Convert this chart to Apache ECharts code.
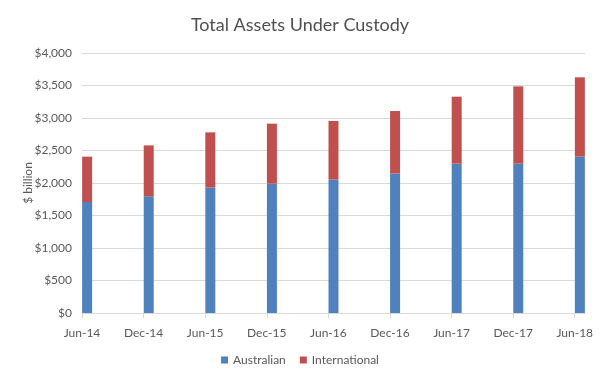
<!DOCTYPE html>
<html>
<head>
<meta charset="utf-8">
<script src="https://cdn.jsdelivr.net/npm/echarts@6/dist/echarts.min.js"></script>
<style>html,body{margin:0;padding:0;background:#fff}#c{width:600px;height:379px}</style>
</head>
<body>
<div id="c"></div>
<script>
var categories = ['Jun-14','Dec-14','Jun-15','Dec-15','Jun-16','Dec-16','Jun-17','Dec-17','Jun-18'];
var monthsFromStart = [0, 6, 12, 18, 24, 30, 36, 42, 48];
var australian = [1708, 1795, 1928, 1990, 2051, 2144, 2297, 2297, 2405];
var international = [697, 784, 851, 923, 903, 964, 1031, 1190, 1221];

var FONT = 'Lato';
var labelMap = {};
monthsFromStart.forEach(function(m, i){ labelMap[m] = categories[i]; });
// value first, then month position (bar spans its reporting month, centred mid-month)
function pts(vals){ return vals.map(function(v, i){ return [v, monthsFromStart[i] + 0.5]; }); }

var chart = echarts.init(document.getElementById('c'));
chart.setOption({
  animation: false,
  textStyle: { fontFamily: FONT },
  title: {
    text: 'Total Assets Under Custody', left: 'center', top: 11,
    textStyle: { fontFamily: FONT, fontSize: 18, fontWeight: 'normal', color: '#505050' }
  },
  legend: {
    bottom: 8, left: 'center', itemWidth: 7, itemHeight: 7, itemGap: 14,
    icon: 'rect',
    textStyle: { fontFamily: FONT, fontSize: 12, color: '#595959' },
    data: ['Australian', 'International']
  },
  grid: { left: 82, right: 15, top: 53, bottom: 66 },
  xAxis: {
    type: 'value', min: 0, max: 49, interval: 6,
    splitLine: { show: false },
    axisLine: { show: true, lineStyle: { color: '#d9d9d9' } },
    axisTick: { show: true, length: 5, lineStyle: { color: '#d9d9d9' }, customValues: monthsFromStart },
    axisLabel: {
      customValues: monthsFromStart,
      formatter: function(v){ return labelMap[v] || ''; },
      fontFamily: FONT, fontSize: 12, color: '#595959', margin: 14
    }
  },
  yAxis: {
    type: 'value', min: 0, max: 4000, interval: 500,
    name: '$ billion', nameLocation: 'middle', nameGap: 48, nameMoveOverlap: false,
    nameTextStyle: { fontFamily: FONT, fontSize: 12, color: '#595959' },
    axisLine: { show: false }, axisTick: { show: false },
    splitLine: { lineStyle: { color: '#d9d9d9' } },
    axisLabel: {
      formatter: function(v){ return '$' + v.toLocaleString('en-US'); },
      fontFamily: FONT, fontSize: 12, color: '#595959', margin: 10
    }
  },
  series: [
    { name: 'Australian', type: 'bar', stack: 'total', barWidth: 10, encode: { x: 1, y: 0 }, data: pts(australian), itemStyle: { color: '#4f81bd' } },
    { name: 'International', type: 'bar', stack: 'total', barWidth: 10, encode: { x: 1, y: 0 }, data: pts(international), itemStyle: { color: '#c0504d' } }
  ]
});
</script>
</body>
</html>
